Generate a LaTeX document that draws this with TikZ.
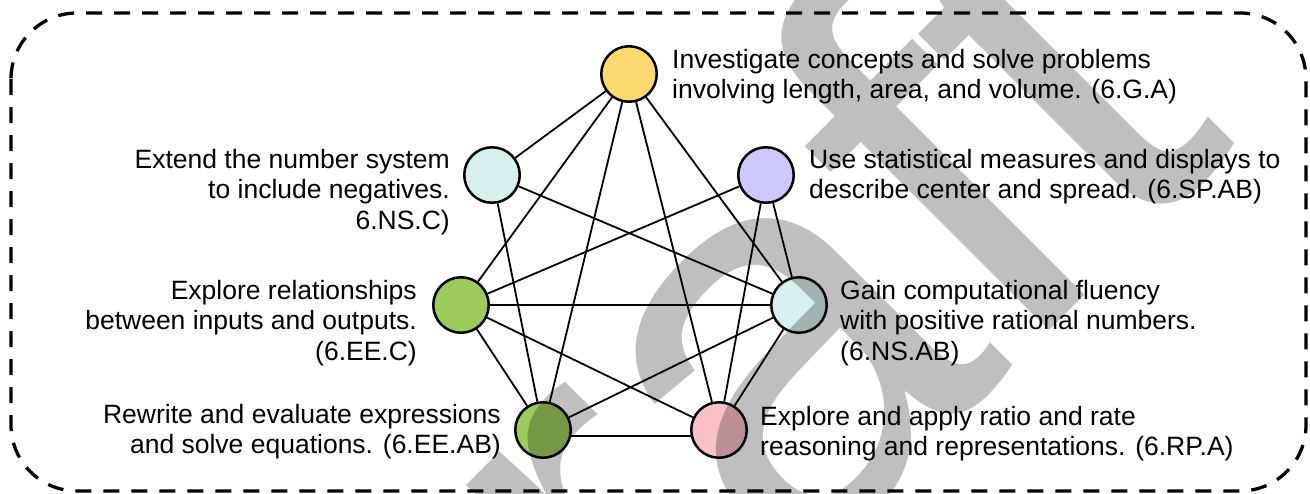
\documentclass[tikz,border=0pt]{standalone}
\usepackage{fontspec}
\setmainfont{Liberation Sans}
\definecolor{gaYellow}{RGB}{253,217,110}
\definecolor{nsCyan}{RGB}{213,240,239}
\definecolor{spLav}{RGB}{205,201,255}
\definecolor{eeGreen}{RGB}{155,203,91}
\definecolor{rpPink}{RGB}{251,192,198}
\begin{document}
\begin{tikzpicture}[x=1pt,y=-1pt,
  topic/.style={circle, draw=black, line width=2.5pt, minimum size=55.5pt, inner sep=0pt},
  link/.style={line width=1.8pt},
  lbl/.style={inner sep=0pt, font=\fontsize{26.5}{30.7}\selectfont},
  frame/.style={draw=black, line width=3.3pt, dash pattern=on 16pt off 12pt, rounded corners=66pt},
  wm/.style={inner sep=0pt, text=black, text opacity=0.25, font=\fontsize{573}{573}\selectfont}]
\useasboundingbox (0,0) rectangle (1310,493);
\draw[frame] (11,13) rectangle (1306,491);

\node[topic, fill=gaYellow] (ga)   at (629,74)  {};
\node[topic, fill=nsCyan]   (nsc)  at (492,175) {};
\node[topic, fill=spLav]    (sp)   at (766,175) {};
\node[topic, fill=eeGreen]  (eec)  at (461,305) {};
\node[topic, fill=nsCyan]   (nsab) at (799,305) {};
\node[topic, fill=eeGreen]  (eeab) at (543,430) {};
\node[topic, fill=rpPink]   (rp)   at (719,430) {};

\draw[link] (ga) -- (nsc);
\draw[link] (ga) -- (eec);
\draw[link] (ga) -- (eeab);
\draw[link] (ga) -- (rp);
\draw[link] (ga) -- (nsab);
\draw[link] (nsc) -- (eeab);
\draw[link] (nsc) -- (nsab);
\draw[link] (sp) -- (eec);
\draw[link] (sp) -- (rp);
\draw[link] (sp) -- (nsab);
\draw[link] (eec) -- (nsab);
\draw[link] (eec) -- (rp);
\draw[link] (eec) -- (eeab);
\draw[link] (nsab) -- (eeab);
\draw[link] (nsab) -- (rp);
\draw[link] (eeab.-12) -- (rp.-168);

\node[lbl, anchor=north west, align=left] (gaL) at (672,46.5)
  {\strut Investigate concepts and solve problems\\involving length, area, and volume. (6.G.A)};
\node[lbl, anchor=north east, align=right] (nscL) at (450,146.5)
  {\strut Extend the number system\\to include negatives.\\6.NS.C)};
\node[lbl, anchor=north west, align=left] (spL) at (809,146.5)
  {\strut Use statistical measures and displays to\\describe center and spread. (6.SP.AB)};
\node[lbl, anchor=north east, align=right] (eecL) at (417,277.5)
  {\strut Explore relationships\\between inputs and outputs.\\(6.EE.C)};
\node[lbl, anchor=north west, align=left] (nsabL) at (840,277.5)
  {\strut Gain computational fluency\\with positive rational numbers.\\(6.NS.AB)};
\node[lbl, anchor=north east, align=right] (eeabL) at (501,401.5)
  {\strut Rewrite and evaluate expressions\\and solve equations. (6.EE.AB)};
\node[lbl, anchor=north west, align=left] (rpL) at (760,403.5)
  {\strut Explore and apply ratio and rate\\reasoning and representations. (6.RP.A)};

\begin{scope}
\clip (0,0) rectangle (1310,493);
\node[wm, rotate=45, anchor=base west] (wmk) at (360.5,1019.5) {Draft};
\end{scope}
\end{tikzpicture}
\end{document}
